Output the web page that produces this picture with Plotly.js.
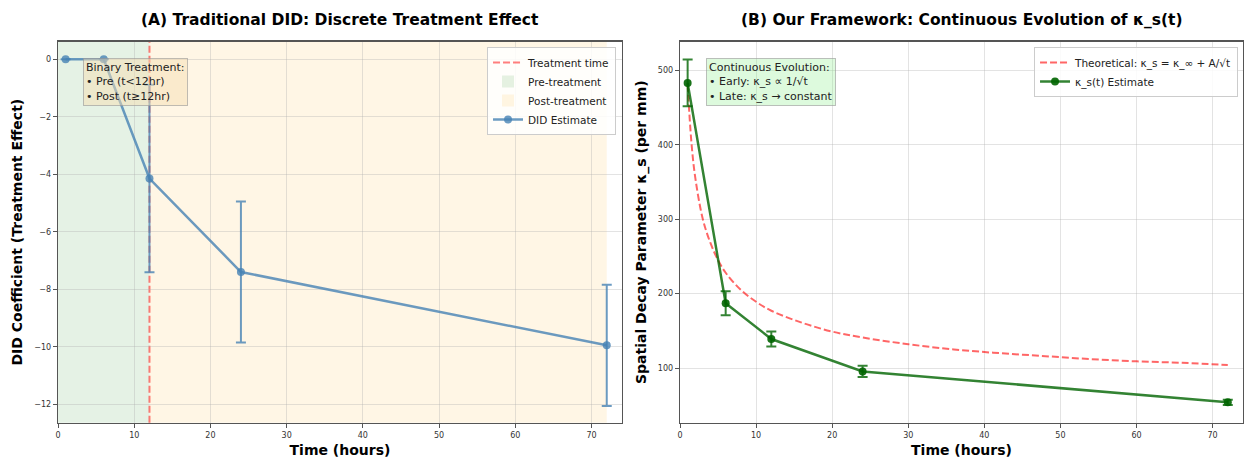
<!DOCTYPE html>
<html>
<head>
<meta charset="utf-8">
<script src="https://cdn.plot.ly/plotly-3.0.1.min.js"></script>
<style>html,body{margin:0;padding:0;background:#fff;}#chart{width:1245px;height:459px;}</style>
</head>
<body>
<div id="chart"></div>
<script>
// ---- Panel A data ----
const didTime = [1, 6, 12, 24, 72];
const didCoef = [0, 0, -4.15, -7.40, -9.95];
const didErr = [null, null, 3.26, 2.45, 2.11];
const treatmentTime = 12;
const preSpan = [0, 12];
const postSpan = [12, 72];

// ---- Panel B data ----
const kTime = [1, 6, 12, 24, 72];
const kEst = [483, 187, 139, 95.5, 54];
const kErr = [31.5, 16, 10, 7.5, 3.5];
const theoTime = [1, 1.5, 2, 3, 4, 5, 6, 8, 10, 12, 16, 20, 24, 30, 36, 42, 48, 54, 60, 66, 72];
const theoVal = [481, 403, 356, 300, 268, 245, 228, 205, 189, 177, 161, 149, 141, 132, 125, 120, 116, 112, 109, 107, 104];

const FONT = 'DejaVu Sans, sans-serif';
const blue = 'rgba(70,130,180,0.8)';
const green = 'rgba(0,100,0,0.8)';

const traces = [
  {
    x: didTime, y: didCoef, type: 'scatter', mode: 'lines+markers',
    name: 'DID Estimate', xaxis: 'x', yaxis: 'y', legend: 'legend', legendrank: 4,
    line: {color: blue, width: 2.5},
    marker: {color: blue, size: 8},
    error_y: {type: 'data', array: didErr, visible: true, color: blue, thickness: 2, width: 5}
  },
  {
    x: theoTime, y: theoVal, type: 'scatter', mode: 'lines', line: {shape: 'spline', color: 'rgba(255,0,0,0.6)', width: 2, dash: '7px,3px'},
    name: 'Theoretical: κ_s = κ_∞ + A/√t', xaxis: 'x2', yaxis: 'y2', legend: 'legend2', legendrank: 1
  },
  {
    x: kTime, y: kEst, type: 'scatter', mode: 'lines+markers',
    name: 'κ_s(t) Estimate', xaxis: 'x2', yaxis: 'y2', legend: 'legend2', legendrank: 2,
    line: {color: green, width: 2.5},
    marker: {color: 'rgba(0,100,0,0.9)', size: 8},
    error_y: {type: 'data', array: kErr, visible: true, color: green, thickness: 2, width: 5}
  }
];

const axisCommon = {
  showline: true, mirror: true, linecolor: '#555', linewidth: 1.3,
  ticks: 'outside', ticklen: 4, tickcolor: '#555', tickwidth: 1,
  tickfont: {family: FONT, size: 8, color: '#333'},
  showgrid: true, gridcolor: 'rgba(176,176,176,0.35)', gridwidth: 1,
  zeroline: false
};
const xTitle = {text: '<b>Time (hours)</b>', font: {family: FONT, size: 14, color: '#000'}, standoff: 6};

const layout = {
  width: 1245, height: 459,
  margin: {l: 0, r: 0, t: 0, b: 0},
  paper_bgcolor: '#fff', plot_bgcolor: 'rgba(0,0,0,0)',
  font: {family: FONT},
  xaxis: Object.assign({}, axisCommon, {domain: [0.0466, 0.4996], range: [0, 74], dtick: 10, anchor: 'y', title: xTitle}),
  yaxis: Object.assign({}, axisCommon, {domain: [0.0791, 0.9092], range: [-12.64, 0.61], dtick: 2, anchor: 'x',
    title: {text: '<b>DID Coefficient (Treatment Effect)</b>', font: {family: FONT, size: 14, color: '#000'}, standoff: 8}}),
  xaxis2: Object.assign({}, axisCommon, {domain: [0.5462, 0.9984], range: [0, 74], dtick: 10, anchor: 'y2', title: xTitle}),
  yaxis2: Object.assign({}, axisCommon, {domain: [0.0791, 0.9092], range: [26.6, 538.4], dtick: 100, anchor: 'x2',
    title: {text: '<b>Spatial Decay Parameter κ_s (per mm)</b>', font: {family: FONT, size: 14, color: '#000'}, standoff: 8}}),
  showlegend: true,
  legend: {x: 0.4948, y: 0.8976, xanchor: 'right', yanchor: 'top', bgcolor: 'rgba(255,255,255,0.85)',
    bordercolor: '#cccccc', borderwidth: 1, font: {family: FONT, size: 10.5, color: '#222'}, tracegroupgap: 0},
  legend2: {x: 0.9944, y: 0.8976, xanchor: 'right', yanchor: 'top', bgcolor: 'rgba(255,255,255,0.85)',
    bordercolor: '#cccccc', borderwidth: 1, font: {family: FONT, size: 10.5, color: '#222'}, tracegroupgap: 0},
  shapes: [
    {type: 'rect', xref: 'x', yref: 'y domain', x0: preSpan[0], x1: preSpan[1], y0: 0, y1: 1,
     fillcolor: 'rgba(0,128,0,0.1)', line: {width: 0}, layer: 'below',
     showlegend: true, name: 'Pre-treatment', legend: 'legend', legendrank: 2},
    {type: 'rect', xref: 'x', yref: 'y domain', x0: postSpan[0], x1: postSpan[1], y0: 0, y1: 1,
     fillcolor: 'rgba(255,165,0,0.1)', line: {width: 0}, layer: 'below',
     showlegend: true, name: 'Post-treatment', legend: 'legend', legendrank: 3},
    {type: 'line', xref: 'x', yref: 'y domain', x0: treatmentTime, x1: treatmentTime, y0: 0, y1: 1,
     line: {color: 'rgba(255,0,0,0.5)', width: 2, dash: '7px,3px'}, layer: 'below',
     showlegend: true, name: 'Treatment time', legend: 'legend', legendrank: 1}
  ],
  annotations: [
    {text: '<b>(A) Traditional DID: Discrete Treatment Effect</b>', xref: 'paper', yref: 'paper',
     x: 0.2731, y: (459 - 20) / 459, xanchor: 'center', yanchor: 'middle', showarrow: false,
     font: {family: FONT, size: 15.5, color: '#000'}},
    {text: '<b>(B) Our Framework: Continuous Evolution of κ_s(t)</b>', xref: 'paper', yref: 'paper',
     x: 0.7723, y: (459 - 20) / 459, xanchor: 'center', yanchor: 'middle', showarrow: false,
     font: {family: FONT, size: 15.5, color: '#000'}},
    {text: 'Binary Treatment:<br>• Pre (t<12hr)<br>• Post (t≥12hr)', xref: 'paper', yref: 'paper',
     x: 83 / 1245, y: (459 - 58) / 459, xanchor: 'left', yanchor: 'top', align: 'left', showarrow: false,
     bgcolor: 'rgba(245,222,179,0.5)', bordercolor: 'rgba(150,150,150,0.6)', borderwidth: 1, borderpad: 2,
     font: {family: FONT, size: 11, color: '#222'}},
    {text: 'Continuous Evolution:<br>• Early: κ_s ∝ 1/√t<br>• Late: κ_s → constant', xref: 'paper', yref: 'paper',
     x: 706 / 1245, y: (459 - 58) / 459, xanchor: 'left', yanchor: 'top', align: 'left', showarrow: false,
     bgcolor: 'rgba(144,238,144,0.3)', bordercolor: 'rgba(150,150,150,0.6)', borderwidth: 1, borderpad: 2,
     font: {family: FONT, size: 11, color: '#222'}}
  ]
};

Plotly.newPlot('chart', traces, layout, {displayModeBar: false, staticPlot: true});
</script>
</body>
</html>
